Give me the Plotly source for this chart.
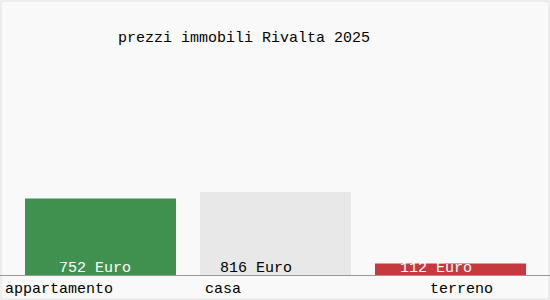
import plotly.graph_objects as go

categories = ["appartamento", "casa", "terreno"]
values = [752, 816, 112]
value_labels = ["752 Euro", "816 Euro", "112 Euro"]
bar_colors = ["#40914f", "#e8e8e8", "#c43a3e"]
label_colors = ["#ffffff", "#000000", "#ffffff"]
title_text = "prezzi immobili Rivalta 2025"

FONT = "Liberation Mono"

fig = go.Figure()
fig.add_trace(go.Bar(
    x=list(range(len(categories))), y=values,
    marker=dict(color=bar_colors, line=dict(width=0)),
    width=0.863, hoverinfo="skip",
))

val_shift = [-43.5, -57.5, -52.5]
cat_shift = [-97.5, -72.5, -22.5]
annotations = []
for i, (c, lab) in enumerate(zip(categories, value_labels)):
    annotations.append(dict(
        x=i, y=0, xref="x", yref="y", text=lab, showarrow=False,
        xanchor="left", yanchor="middle", xshift=val_shift[i], yshift=7,
        font=dict(family=FONT, size=15, color=label_colors[i]),
    ))
    annotations.append(dict(
        x=i, y=0, xref="x", yref="y", text=c, showarrow=False,
        xanchor="left", yanchor="middle", xshift=cat_shift[i], yshift=-14,
        font=dict(family=FONT, size=15, color="#000000"),
    ))
annotations.append(dict(
    x=244 / 550, y=(275 - 38) / 215, xref="paper", yref="paper", text=title_text,
    showarrow=False, xanchor="center", yanchor="middle",
    font=dict(family=FONT, size=15, color="#000000"),
))

fig.update_layout(
    width=550, height=300,
    margin=dict(l=0, r=0, t=60, b=25),
    paper_bgcolor="#f9f9f9", plot_bgcolor="#f9f9f9",
    showlegend=False,
    annotations=annotations,
    shapes=[dict(type="rect", xref="paper", yref="paper",
                 x0=1 / 550, x1=549 / 550, y0=(275 - 299) / 215, y1=(275 - 1) / 215,
                 line=dict(color="#e0e0e0", width=1), fillcolor="rgba(0,0,0,0)", layer="below")],
    xaxis=dict(range=[-100.5 / 175, -100.5 / 175 + 550 / 175], showticklabels=False,
               showgrid=False, zeroline=False, showline=True, linecolor="#999999", linewidth=1,
               ticks="", fixedrange=True),
    yaxis=dict(range=[0, 215 / (83 / 816)], showticklabels=False, showgrid=False,
               zeroline=False, showline=False, ticks="", fixedrange=True),
)
fig.write_html("out.html")
